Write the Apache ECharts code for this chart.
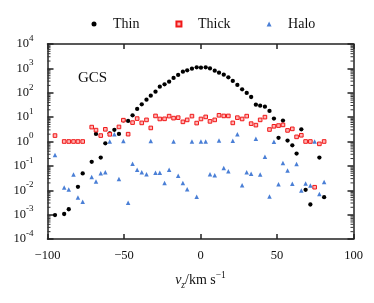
<!DOCTYPE html>
<html><head><meta charset="utf-8">
<script src="https://cdn.jsdelivr.net/npm/echarts@6/dist/echarts.min.js"></script>
<style>html,body{margin:0;padding:0;background:#fff}#c{width:374px;height:303px}</style>
</head><body><div id="c"></div>
<script>
// bin centres (km/s)
const vz = [-95.1,-89.1,-86.1,-83.0,-80.1,-77.0,-71.1,-68.3,-65.2,-62.2,-59.3,-56.3,-53.3,-50.4,-47.3,-44.4,-41.4,-38.4,-35.3,-32.5,-29.4,-26.6,-23.5,-20.5,-17.6,-14.6,-11.5,-8.7,-5.6,-2.5,0.3,3.4,6.2,9.3,12.1,15.2,18.2,21.1,24.1,27.2,30.2,33.1,36.2,39.0,42.1,45.1,48.0,51.0,53.9,56.9,60.0,62.8,65.9,68.7,71.8,74.6,77.7,80.8];
const thin = [0.00096,0.00106,0.00166,null,0.0138,0.049,0.146,2.05,0.219,0.84,2.17,3.02,2.05,7.4,7.0,11.9,21.7,33.5,52,76,111,178,221,285,404,537,731,828,973,1100,1069,1100,1000,805,667,552,428,305,209,138,98,67,32.5,29.6,26.9,17.9,8.7,1.41,7.2,1.09,0.70,0.32,3.16,0.0104,0.0026,null,0.219,0.0052];
const thick = [1.75,1.0,1.0,1.0,1.0,1.0,3.9,2.93,1.75,3.16,1.97,null,3.96,7.5,2.0,5.96,8.7,5.8,7.7,3.6,11.2,8.4,8.5,11,9.1,9.5,6.4,7.7,11,5.7,8.4,10.2,6.7,7.7,11.9,11.2,11.2,5.8,9.5,8.4,11,5.4,4.7,7.7,10,3.1,4.2,4.5,4.8,2.85,3.3,1.55,1.8,1.0,1.0,0.0133,0.80,1.0];
const halo = [0.28,0.0129,0.0107,0.044,0.0050,0.0034,0.035,0.023,0.050,0.055,0.99,1.97,0.029,1.06,0.0031,0.121,0.070,0.055,0.045,1.04,0.052,0.052,0.020,0.069,0.99,0.039,0.020,0.011,1.0,0.0054,1.0,1.0,0.045,0.041,1.11,0.081,0.060,1.07,2.0,0.016,0.055,0.048,1.31,0.044,0.236,0.0056,0.97,0.0176,0.130,0.064,0.0183,0.119,0.0097,0.019,0.0156,1.0,0.0070,0.0217];
const seriesNames = ['Thin','Thick','Halo'];
const xTickLabels = ['−100','−50','0','50','100'];
const panelLabel = 'GCS';

const FONT = 'Liberation Serif';
function pairs(arr){ return vz.map((x,i)=> arr[i]==null ? null : [x, arr[i]]).filter(Boolean); }
// minor log ticks 2..9 per decade
const minorTicks = [];
for (let k=-4;k<4;k++){ for (let m=2;m<=9;m++){ minorTicks.push([-100, m*Math.pow(10,k)]); } }

const chart = echarts.init(document.getElementById('c'), null, {renderer:'canvas'});
const axisLine = {show:true, onZero:false, lineStyle:{color:'#222', width:1.5}};
chart.setOption({
  animation:false,
  backgroundColor:'#fff',
  grid:{left:47.5, right:20.5, top:44, bottom:64},
  legend:{
    data:seriesNames, left:86.5, top:12, itemWidth:5, itemHeight:5, itemGap:36,
    textStyle:{fontFamily:FONT, fontSize:14, color:'#111', padding:[0,0,0,11.5]}
  },
  graphic:[{type:'text', left:78, top:71, style:{text:panelLabel, font:'15px "Liberation Serif"', fill:'#111'}}],
  xAxis:[{
    type:'value', min:-100, max:100, interval:50, position:'bottom',
    axisLine, splitLine:{show:false},
    axisTick:{show:true, inside:true, length:5, lineStyle:{color:'#222', width:1.5}},
    axisLabel:{fontFamily:FONT, fontSize:12.5, color:'#111', margin:10,
      formatter:(v)=>xTickLabels[Math.round((v+100)/50)]},
    name:'{i|v}{sub|z}{n|/km s}{sup|−1}', nameLocation:'middle', nameGap:31,
    nameTextStyle:{fontFamily:FONT, rich:{
      i:{fontFamily:FONT, fontStyle:'italic', fontSize:14, lineHeight:20, color:'#111'},
      sub:{fontFamily:FONT, fontStyle:'italic', fontSize:9.5, lineHeight:13, verticalAlign:'bottom', color:'#111'},
      n:{fontFamily:FONT, fontSize:14, lineHeight:20, color:'#111'},
      sup:{fontFamily:FONT, fontSize:9.5, lineHeight:9, verticalAlign:'top', color:'#111'}
    }}
  },{
    type:'value', min:-100, max:100, interval:50, position:'top',
    axisLine, splitLine:{show:false}, axisLabel:{show:false},
    axisTick:{show:true, inside:true, length:5, lineStyle:{color:'#222', width:1.5}}
  }],
  yAxis:[{
    type:'log', logBase:10, min:1e-4, max:1e4, splitNumber:8, position:'left',
    axisLine, splitLine:{show:false},
    axisTick:{show:true, inside:true, length:6, lineStyle:{color:'#222', width:1.5}},
    axisLabel:{margin:14, color:'#111',
      formatter:(v)=>'{b|10}{s|'+Math.round(Math.log10(v))+'}',
      rich:{
        b:{fontFamily:FONT, fontSize:12.5, lineHeight:20, color:'#111'},
        s:{fontFamily:FONT, fontSize:9, lineHeight:9, verticalAlign:'top', color:'#111'}
      }}
  },{
    type:'log', logBase:10, min:1e-4, max:1e4, splitNumber:8, position:'right',
    axisLine, splitLine:{show:false}, axisLabel:{show:false},
    axisTick:{show:true, inside:true, length:6, lineStyle:{color:'#222', width:1.5}}
  }],
  series:[
    {name:'Thin', type:'scatter', data:pairs(thin), symbol:'circle', symbolSize:4.3,
      itemStyle:{color:'#000', opacity:1}},
    {name:'Thick', type:'scatter', data:pairs(thick), symbol:'rect', symbolSize:3.6,
      itemStyle:{color:'#ffb4b4', borderColor:'#f01818', borderWidth:1, opacity:1}},
    {name:'Halo', type:'scatter', data:pairs(halo), symbol:'triangle', symbolSize:4.5,
      itemStyle:{color:'#4a7fd6', opacity:1}},
    {type:'custom', silent:true, data:minorTicks, encode:{x:0, y:1}, clip:false, z:1,
      renderItem:(params, api)=>{
        const v = api.value(1);
        const l = api.coord([-100, v]); const r = api.coord([100, v]);
        return {type:'group', children:[
          {type:'line', shape:{x1:l[0], y1:l[1], x2:l[0]+3, y2:l[1]}, style:{stroke:'#333', lineWidth:1}},
          {type:'line', shape:{x1:r[0], y1:r[1], x2:r[0]-3, y2:r[1]}, style:{stroke:'#333', lineWidth:1}}
        ]};
      }}
  ]
});
</script></body></html>
